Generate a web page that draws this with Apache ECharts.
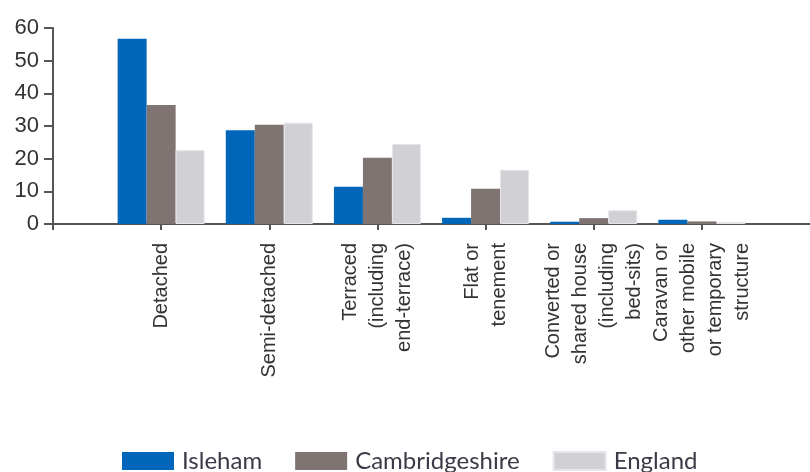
<!DOCTYPE html>
<html>
<head>
<meta charset="utf-8">
<script src="https://cdn.jsdelivr.net/npm/echarts@6/dist/echarts.min.js"></script>
<style>
  html, body { margin: 0; padding: 0; background: #fff; }
  #chart { width: 810px; height: 472px; }
</style>
</head>
<body>
<div id="chart"></div>
<script>
// housing type shares (%)
const categories = [
  'Detached',
  'Semi-detached',
  'Terraced\n(including\nend-terrace)',
  'Flat or\ntenement',
  'Converted or\nshared house\n(including\nbed-sits)',
  'Caravan or\nother mobile\nor temporary\nstructure'
]
const isleham = [56.7, 28.7, 11.4, 1.9, 0.7, 1.3]
const cambridgeshire = [36.4, 30.4, 20.3, 10.8, 1.8, 0.8]
const england = [22.6, 31.0, 24.5, 16.6, 4.2, 0.6]
const yTicks = [0, 10, 20, 30, 40, 50, 60]

// empty slot at each end so the groups sit one step in from the y axis
const pad = arr => ['-', ...arr, '-']

const chart = echarts.init(document.getElementById('chart'))

const axisColor = '#555'

const option = {
  animation: false,
  grid: { left: 53, right: -6, top: 28, bottom: 248, containLabel: false },
  legend: {
    left: 122,
    top: 447,
    padding: 0,
    itemWidth: 52,
    itemHeight: 18,
    itemGap: 33,
    icon: 'rect',
    textStyle: { fontFamily: 'Lato', fontSize: 24, lineHeight: 28, color: '#3a3a48', padding: [0, 0, 0, 3] },
    data: ['Isleham', 'Cambridgeshire', 'England']
  },
  xAxis: {
    type: 'category',
    boundaryGap: false,
    data: ['', ...categories, ''],
    axisLine: { lineStyle: { color: axisColor, width: 2 } },
    axisTick: {
      show: true,
      length: 6,
      // no tick on the trailing empty slot
      interval: idx => idx <= categories.length,
      lineStyle: { color: axisColor, width: 2 }
    },
    axisLabel: {
      interval: 0,
      rotate: 90,
      margin: 19,
      fontFamily: 'Liberation Sans',
      fontSize: 20,
      lineHeight: 27,
      color: '#333'
    },
    splitLine: { show: false }
  },
  yAxis: {
    type: 'value',
    min: yTicks[0],
    max: yTicks[yTicks.length - 1],
    interval: 10,
    axisLine: { show: true, lineStyle: { color: axisColor, width: 2 } },
    axisTick: { show: true, length: 9, lineStyle: { color: axisColor, width: 2 } },
    axisLabel: { margin: 14, fontFamily: 'Liberation Sans', fontSize: 22, color: '#333' },
    splitLine: { show: false }
  },
  series: [
    {
      name: 'Isleham',
      type: 'bar',
      data: pad(isleham),
      barWidth: 29,
      barGap: '0%',
      itemStyle: { color: '#0066b9' }
    },
    {
      name: 'Cambridgeshire',
      type: 'bar',
      data: pad(cambridgeshire),
      barWidth: 29,
      itemStyle: { color: '#807472' }
    },
    {
      name: 'England',
      type: 'bar',
      data: pad(england),
      barWidth: 29,
      itemStyle: { color: '#d0d0d5', borderColor: '#e6e6ea', borderWidth: 1 }
    }
  ]
}

chart.setOption(option)
</script>
</body>
</html>
